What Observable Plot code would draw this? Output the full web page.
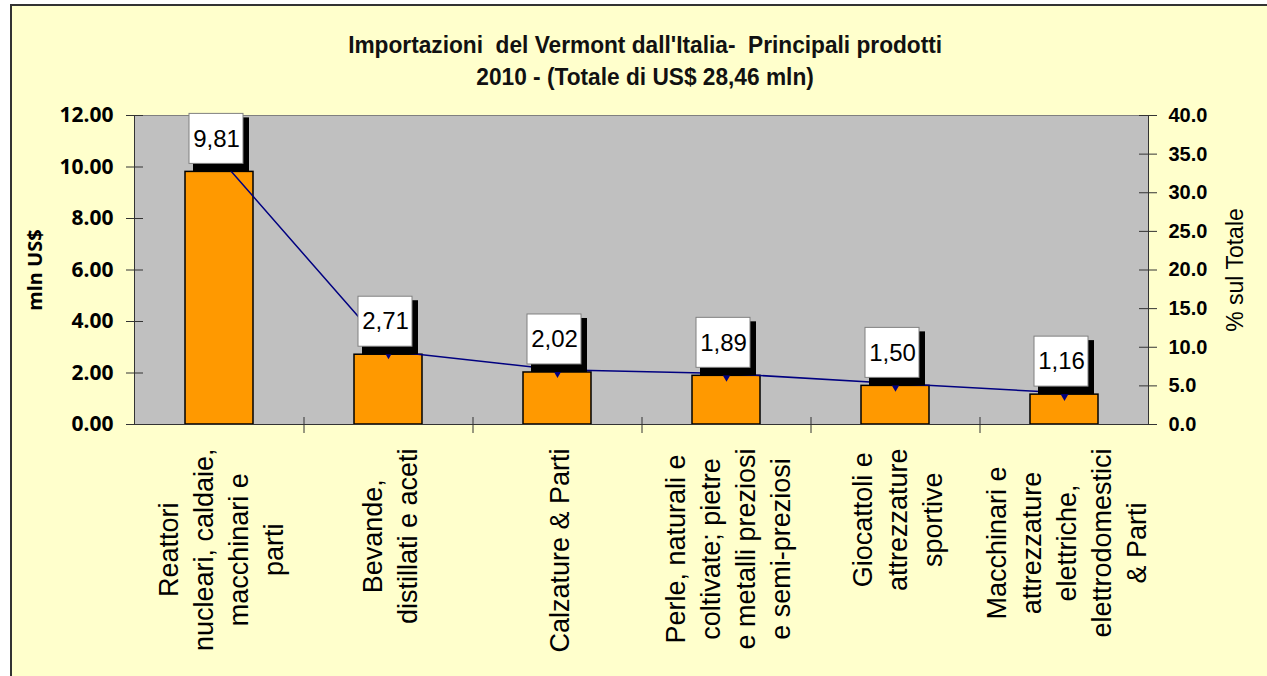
<!DOCTYPE html>
<html>
<head>
<meta charset="utf-8">
<script src="https://cdn.jsdelivr.net/npm/d3@7"></script>
<script src="https://cdn.jsdelivr.net/npm/@observablehq/plot@0.6"></script>
<style>
html, body { margin: 0; padding: 0; background: #fff; overflow: hidden; width: 1267px; height: 676px; }
#bg { position: absolute; left: 10px; top: 4px; width: 1300px; height: 700px; border-left: 2px solid #333; border-top: 2px solid #333; background: #FFFFCC; }
.title { position: absolute; left: 0; width: 1290px; text-align: center; white-space: pre; line-height: 26px;
  font-family: "Liberation Sans Narrow", "Liberation Sans", Arial, sans-serif; font-weight: bold; font-size: 23px; color: #111; }
.title span { display: inline-block; transform-origin: 50% 50%; }
#t1 { top: 32px; }
#t2 { top: 64px; }
#chart { position: absolute; left: 0; top: 0; }
</style>
</head>
<body>
<div id="bg"></div>
<div id="t1" class="title"><span>Importazioni  del Vermont dall'Italia-  Principali prodotti</span></div>
<div id="t2" class="title"><span>2010 - (Totale di US$ 28,46 mln)</span></div>
<div id="chart"></div>
<script>
// ---- data ----
const categories = [
  "Reattori\nnucleari, caldaie,\nmacchinari e\nparti",
  "Bevande,\ndistillati e aceti",
  "Calzature & Parti",
  "Perle, naturali e\ncoltivate; pietre\ne metalli preziosi\ne semi-preziosi",
  "Giocattoli e\nattrezzature\nsportive",
  "Macchinari e\nattrezzature\nelettriche,\nelettrodomestici\n& Parti"
];
const values = [9.81, 2.71, 2.02, 1.89, 1.50, 1.16];
const valueLabels = ["9,81", "2,71", "2,02", "1,89", "1,50", "1,16"];
const shares = [34.5, 9.5, 7.1, 6.6, 5.3, 4.1];
const leftTicks = [0, 2, 4, 6, 8, 10, 12];
const rightTicks = [0, 5, 10, 15, 20, 25, 30, 35, 40];
const yLabelLeft = "mln US$";
const yLabelRight = "% sul Totale";

// ---- layout ----
const W = 1267, H = 676, ML = 134, MR = 119, MT = 115, MB = 252;
const k = 12 / 40; // right-axis (percent) to left-axis units
const step = (W - ML - MR) / categories.length;
const plotH = H - MT - MB;
const catFontSize = 27;

const data = categories.map((c, i) => ({cat: c, value: values[i], label: valueLabels[i], share: shares[i]}));

const ctx = document.createElement("canvas").getContext("2d");
ctx.font = `${catFontSize}px 'Liberation Sans'`;
const maxLen = c => d3.max(c.split("\n"), s => ctx.measureText(s).width);

const catLabelMarks = categories.map(c => Plot.text([c], {
  x: d => d, frameAnchor: "bottom", dy: 24 + maxLen(c) / 2,
  rotate: -90, textAnchor: "middle", lineAnchor: "middle", lineHeight: 1.3,
  fontSize: catFontSize, fontFamily: "Liberation Sans", fill: "#000"
}));

const chart = Plot.plot({
  width: W, height: H,
  marginLeft: ML, marginRight: MR, marginTop: MT, marginBottom: MB,
  style: {background: "transparent", overflow: "visible"},
  x: {domain: categories, paddingInner: 0.6, paddingOuter: 0.3, axis: null},
  y: {domain: [0, 12], axis: null},
  marks: [
    Plot.frame({fill: "#C0C0C0"}),
    Plot.frame({anchor: "top", stroke: "#808080"}),
    Plot.barY(data, {x: "cat", y: "value", fill: "#FF9900", stroke: "#000", strokeWidth: 1.5}),
    Plot.line(data, {x: "cat", y: d => d.share * k, stroke: "#000080", strokeWidth: 1.5}),
    Plot.dot(data, {x: "cat", y: d => d.share * k, symbol: "diamond", r: 5, fill: "#000080"}),
    Plot.barY(data, {x: "cat", y1: "value", y2: "value", insetTop: -54, insetBottom: 0, insetLeft: 8, insetRight: 4, fill: "#000"}),
    Plot.barY(data, {x: "cat", y1: "value", y2: "value", insetTop: -58, insetBottom: 8, insetLeft: 4, insetRight: 10, fill: "#fff", stroke: "#808080", strokeWidth: 1}),
    Plot.text(data, {x: "cat", y: "value", text: "label", dx: -3, dy: -33, fontSize: 24, fontFamily: "Liberation Sans", fill: "#000"}),
    // axes lines
    Plot.frame({anchor: "left", stroke: "#333"}),
    Plot.frame({anchor: "right", stroke: "#333"}),
    Plot.frame({anchor: "bottom", stroke: "#333"}),
    // left axis
    Plot.axisY(leftTicks, {anchor: "left", tickSize: 17, dx: 9, tickFormat: () => "", label: null, stroke: "#333"}),
    Plot.axisY(leftTicks, {anchor: "left", tickSize: 0, tickPadding: 21, tickFormat: d => d.toFixed(2), label: null,
      fontSize: 21, fontFamily: "Noto Sans", fontWeight: "bold", fill: "#000"}),
    // right axis
    Plot.axisY(rightTicks.map(p => p * k), {anchor: "right", tickSize: 18, dx: -10, tickFormat: () => "", label: null, stroke: "#333"}),
    Plot.axisY(rightTicks.map(p => p * k), {anchor: "right", tickSize: 0, tickPadding: 20, tickFormat: d => (d / k).toFixed(1), label: null,
      fontSize: 20, fontFamily: "Liberation Sans", fontWeight: "bold", fill: "#000"}),
    // category boundary ticks
    Plot.ruleX(categories.slice(0, -1), {x: d => d, dx: step / 2, insetTop: plotH - 7, insetBottom: -9, stroke: "#333"}),
    ...catLabelMarks,
    // axis titles
    Plot.text([yLabelLeft], {frameAnchor: "left", dx: -99, rotate: -90, textAnchor: "middle", lineAnchor: "middle",
      fontSize: 20, fontWeight: "bold", fontFamily: "Noto Sans", fill: "#000"}),
    Plot.text([yLabelRight], {frameAnchor: "right", dx: 87, rotate: -90, textAnchor: "middle", lineAnchor: "middle",
      fontSize: 23, fontFamily: "Liberation Sans", fill: "#000"})
  ]
});
document.getElementById("chart").appendChild(chart);

// title width fit
const s1 = document.querySelector("#t1 span"), s2 = document.querySelector("#t2 span");
const sc = 594 / s1.getBoundingClientRect().width;
[s1, s2].forEach(s => s.style.transform = `scaleX(${sc})`);
</script>
</body>
</html>
